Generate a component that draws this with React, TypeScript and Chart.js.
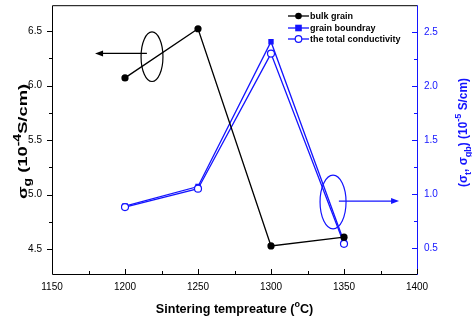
import React, { useEffect, useRef } from 'react';
import { Chart, registerables } from 'chart.js';
Chart.register(...registerables);

// ---- data ----
const temperatures = [1200, 1250, 1300, 1350];
const bulkGrain = [6.07, 6.52, 4.53, 4.61];
const grainBoundary = [0.89, 1.07, 2.41, 0.56];
const totalConductivity = [0.88, 1.05, 2.30, 0.54];
const seriesLabels = ['bulk grain', 'grain boundray', 'the total conductivity'];

const xTicks = [1150, 1200, 1250, 1300, 1350, 1400];
const xMinorTicks = [1175, 1225, 1275, 1325, 1375];
const leftTicks = [4.5, 5.0, 5.5, 6.0, 6.5];
const leftMinorTicks = [4.75, 5.25, 5.75, 6.25];
const rightTicks = [0.5, 1.0, 1.5, 2.0, 2.5];
const rightMinorTicks = [0.75, 1.25, 1.75, 2.25];

// annotation ellipses / arrows in data units
const bulkEllipse = { cx: 1218.5, cy: 6.264, rx: 7.5, ry: 0.227 };
const bulkArrow = { x1: 1215, x2: 1179.5, y: 6.294 };
const condEllipse = { cx: 1342.5, cy: 0.927, rx: 8.9, ry: 0.248 };
const condArrow = { x1: 1346.5, x2: 1387.7, y: 0.936 };

const BLUE = '#1414ff';
const FONT = '"Liberation Sans", Arial, sans-serif';

type Part = { t: string; s?: 'sub' | 'sup' };

function richWidth(ctx: CanvasRenderingContext2D, parts: Part[], main: number, small: number) {
  let w = 0;
  for (const p of parts) {
    ctx.font = `bold ${p.s ? small : main}px ${FONT}`;
    w += ctx.measureText(p.t).width;
  }
  return w;
}

function drawRich(ctx: CanvasRenderingContext2D, parts: Part[], cx: number, baseY: number, main: number, small: number, color: string) {
  const total = richWidth(ctx, parts, main, small);
  let x = cx - total / 2;
  ctx.fillStyle = color;
  ctx.textBaseline = 'alphabetic';
  ctx.textAlign = 'left';
  for (const p of parts) {
    ctx.font = `bold ${p.s ? small : main}px ${FONT}`;
    const dy = p.s === 'sup' ? -main * 0.45 : p.s === 'sub' ? main * 0.3 : 0;
    ctx.fillText(p.t, x, baseY + dy);
    x += ctx.measureText(p.t).width;
  }
}

function arrow(ctx: CanvasRenderingContext2D, x1: number, x2: number, y: number, color: string) {
  const dir = Math.sign(x2 - x1);
  ctx.strokeStyle = color;
  ctx.fillStyle = color;
  ctx.lineWidth = 1.2;
  ctx.beginPath();
  ctx.moveTo(x1, y);
  ctx.lineTo(x2 - dir * 6, y);
  ctx.stroke();
  ctx.beginPath();
  ctx.moveTo(x2, y);
  ctx.lineTo(x2 - dir * 8, y - 3);
  ctx.lineTo(x2 - dir * 8, y + 3);
  ctx.closePath();
  ctx.fill();
}

const decorPlugin = {
  id: 'decor',
  afterDraw(chart: any) {
    const ctx: CanvasRenderingContext2D = chart.ctx;
    const { left, right, top, bottom } = chart.chartArea;
    const xs = chart.scales.x;
    const yl = chart.scales.yL;
    const yr = chart.scales.yR;
    ctx.save();

    // frame
    ctx.lineWidth = 1;
    ctx.strokeStyle = '#000';
    ctx.beginPath();
    ctx.moveTo(right, top + 0.5);
    ctx.lineTo(left + 0.5, top + 0.5);
    ctx.lineTo(left + 0.5, bottom + 0.5);
    ctx.lineTo(right, bottom + 0.5);
    ctx.stroke();
    ctx.strokeStyle = BLUE;
    ctx.beginPath();
    ctx.moveTo(right + 0.5, top);
    ctx.lineTo(right + 0.5, bottom + 1);
    ctx.stroke();

    // ticks
    ctx.strokeStyle = '#000';
    ctx.beginPath();
    for (const v of xTicks) {
      const px = Math.round(xs.getPixelForValue(v)) + 0.5;
      ctx.moveTo(px, bottom);
      ctx.lineTo(px, bottom - 5);
    }
    for (const v of xMinorTicks) {
      const px = Math.round(xs.getPixelForValue(v)) + 0.5;
      ctx.moveTo(px, bottom);
      ctx.lineTo(px, bottom - 3);
    }
    for (const v of leftTicks) {
      const py = Math.round(yl.getPixelForValue(v)) + 0.5;
      ctx.moveTo(left, py);
      ctx.lineTo(left - 5, py);
    }
    for (const v of leftMinorTicks) {
      const py = Math.round(yl.getPixelForValue(v)) + 0.5;
      ctx.moveTo(left, py);
      ctx.lineTo(left - 3, py);
    }
    ctx.stroke();
    ctx.strokeStyle = BLUE;
    ctx.beginPath();
    for (const v of rightTicks) {
      const py = Math.round(yr.getPixelForValue(v)) + 0.5;
      ctx.moveTo(right, py);
      ctx.lineTo(right - 5, py);
    }
    for (const v of rightMinorTicks) {
      const py = Math.round(yr.getPixelForValue(v)) + 0.5;
      ctx.moveTo(right, py);
      ctx.lineTo(right - 3, py);
    }
    ctx.stroke();

    // ellipses and arrows
    ctx.lineWidth = 1.2;
    ctx.strokeStyle = '#000';
    {
      const cx = xs.getPixelForValue(bulkEllipse.cx);
      const cy = yl.getPixelForValue(bulkEllipse.cy);
      const rx = Math.abs(xs.getPixelForValue(bulkEllipse.cx + bulkEllipse.rx) - cx);
      const ry = Math.abs(yl.getPixelForValue(bulkEllipse.cy + bulkEllipse.ry) - cy);
      ctx.beginPath();
      ctx.ellipse(cx, cy, rx, ry, 0, 0, Math.PI * 2);
      ctx.stroke();
      arrow(ctx, xs.getPixelForValue(bulkArrow.x1), xs.getPixelForValue(bulkArrow.x2), yl.getPixelForValue(bulkArrow.y), '#000');
    }
    {
      ctx.strokeStyle = BLUE;
      ctx.lineWidth = 1.2;
      const cx = xs.getPixelForValue(condEllipse.cx);
      const cy = yr.getPixelForValue(condEllipse.cy);
      const rx = Math.abs(xs.getPixelForValue(condEllipse.cx + condEllipse.rx) - cx);
      const ry = Math.abs(yr.getPixelForValue(condEllipse.cy + condEllipse.ry) - cy);
      ctx.beginPath();
      ctx.ellipse(cx, cy, rx, ry, 0, 0, Math.PI * 2);
      ctx.stroke();
      arrow(ctx, xs.getPixelForValue(condArrow.x1), xs.getPixelForValue(condArrow.x2), yr.getPixelForValue(condArrow.y), BLUE);
    }

    // legend
    const legY = [16, 28, 39];
    const lx1 = 288, lx2 = 309, lm = 298.5, tx = 310;
    ctx.font = `bold 9px ${FONT}`;
    ctx.textBaseline = 'middle';
    ctx.textAlign = 'left';
    seriesLabels.forEach((lab, i) => {
      const y = legY[i];
      const col = i === 0 ? '#000' : BLUE;
      ctx.strokeStyle = col;
      ctx.lineWidth = 1.3;
      ctx.beginPath();
      ctx.moveTo(lx1, y);
      ctx.lineTo(lx2, y);
      ctx.stroke();
      if (i === 0) {
        ctx.fillStyle = '#000';
        ctx.beginPath();
        ctx.arc(lm, y, 3.3, 0, Math.PI * 2);
        ctx.fill();
      } else if (i === 1) {
        ctx.fillStyle = BLUE;
        ctx.fillRect(lm - 3.3, y - 3.3, 6.6, 6.6);
      } else {
        ctx.fillStyle = '#fff';
        ctx.strokeStyle = BLUE;
        ctx.lineWidth = 1.2;
        ctx.beginPath();
        ctx.arc(lm, y, 3.3, 0, Math.PI * 2);
        ctx.fill();
        ctx.stroke();
      }
      ctx.font = `bold 9px ${FONT}`;
      ctx.textBaseline = 'middle';
      ctx.fillStyle = '#000';
      ctx.fillText(lab, tx, y + 0.5);
    });

    // axis titles
    const xTitle: Part[] = [{ t: 'Sintering tempreature (' }, { t: 'o', s: 'sup' }, { t: 'C)' }];
    drawRich(ctx, xTitle, (left + right) / 2, 313, 12.6, 9, '#000');

    const lTitle: Part[] = [{ t: 'σ' }, { t: 'g', s: 'sub' }, { t: ' (10' }, { t: '-4', s: 'sup' }, { t: 'S/cm)' }];
    ctx.save();
    ctx.translate(27, 141.5);
    ctx.rotate(-Math.PI / 2);
    const lw = richWidth(ctx, lTitle, 13, 10);
    ctx.scale(115 / lw, 1);
    drawRich(ctx, lTitle, 0, 0, 13, 10, '#000');
    ctx.restore();

    const rTitle: Part[] = [{ t: '(σ' }, { t: 't', s: 'sub' }, { t: ', σ' }, { t: 'gb', s: 'sub' }, { t: ') (10' }, { t: '-5', s: 'sup' }, { t: ' S/cm)' }];
    ctx.save();
    ctx.translate(467, 132.5);
    ctx.rotate(-Math.PI / 2);
    const rw = richWidth(ctx, rTitle, 12.5, 9.5);
    ctx.scale(109 / rw, 1);
    drawRich(ctx, rTitle, 0, 0, 12.5, 9.5, BLUE);
    ctx.restore();

    ctx.restore();
  },
};

export default function App() {
  const ref = useRef<HTMLCanvasElement>(null);
  useEffect(() => {
    document.body.style.margin = '0';
    const pts = (ys: number[]) => temperatures.map((t, i) => ({ x: t, y: ys[i] }));
    const chart = new Chart(ref.current as HTMLCanvasElement, {
      type: 'line',
      data: {
        datasets: [
          {
            label: seriesLabels[0],
            data: pts(bulkGrain),
            yAxisID: 'yL',
            borderColor: '#000',
            backgroundColor: '#000',
            borderWidth: 1.3,
            pointStyle: 'circle',
            pointRadius: 3.6,
            pointBackgroundColor: '#000',
            pointBorderColor: '#000',
            pointBorderWidth: 0,
            tension: 0,
            order: 0,
          },
          {
            label: seriesLabels[1],
            data: pts(grainBoundary),
            yAxisID: 'yR',
            borderColor: BLUE,
            backgroundColor: BLUE,
            borderWidth: 1.3,
            pointStyle: 'rect',
            pointRadius: 3.8,
            pointBackgroundColor: BLUE,
            pointBorderColor: BLUE,
            pointBorderWidth: 0,
            tension: 0,
            order: 2,
          },
          {
            label: seriesLabels[2],
            data: pts(totalConductivity),
            yAxisID: 'yR',
            borderColor: BLUE,
            backgroundColor: '#fff',
            borderWidth: 1.3,
            pointStyle: 'circle',
            pointRadius: 3.5,
            pointBackgroundColor: '#fff',
            pointBorderColor: BLUE,
            pointBorderWidth: 1.2,
            tension: 0,
            order: 1,
          },
        ] as any,
      },
      options: {
        responsive: false,
        animation: false,
        devicePixelRatio: 1,
        layout: { padding: { top: 3, left: 0, right: 0, bottom: 0 } },
        plugins: { legend: { display: false }, tooltip: { enabled: false } },
        scales: {
          x: {
            type: 'linear',
            min: 1150,
            max: 1400,
            afterBuildTicks: (s: any) => { s.ticks = xTicks.map((v) => ({ value: v })); },
            afterFit: (s: any) => { s.height = 44; s.paddingLeft = 0; s.paddingRight = 0; },
            grid: { display: false, drawTicks: false },
            border: { display: false },
            ticks: { padding: 7, color: '#000', font: { family: FONT, size: 10 }, maxRotation: 0, autoSkip: false, callback: (v: any) => String(v) },
          },
          yL: {
            type: 'linear',
            position: 'left',
            min: 4.273,
            max: 6.736,
            afterBuildTicks: (s: any) => { s.ticks = leftTicks.map((v) => ({ value: v })); },
            afterFit: (s: any) => { s.width = 52; s.paddingTop = 0; s.paddingBottom = 0; },
            grid: { display: false, drawTicks: false },
            border: { display: false },
            ticks: { padding: 10, color: '#000', font: { family: FONT, size: 10 }, autoSkip: false, callback: (v: any) => Number(v).toFixed(1) },
          },
          yR: {
            type: 'linear',
            position: 'right',
            min: 0.261,
            max: 2.748,
            afterBuildTicks: (s: any) => { s.ticks = rightTicks.map((v) => ({ value: v })); },
            afterFit: (s: any) => { s.width = 55; s.paddingTop = 0; s.paddingBottom = 0; },
            grid: { display: false, drawTicks: false },
            border: { display: false },
            ticks: { padding: 7, color: BLUE, font: { family: FONT, size: 10 }, autoSkip: false, callback: (v: any) => Number(v).toFixed(1) },
          },
        },
      } as any,
      plugins: [decorPlugin],
    });
    return () => chart.destroy();
  }, []);
  return (
    <div style={{ width: 472, height: 318 }}>
      <canvas ref={ref} width={472} height={318} style={{ display: 'block' }} />
    </div>
  );
}
